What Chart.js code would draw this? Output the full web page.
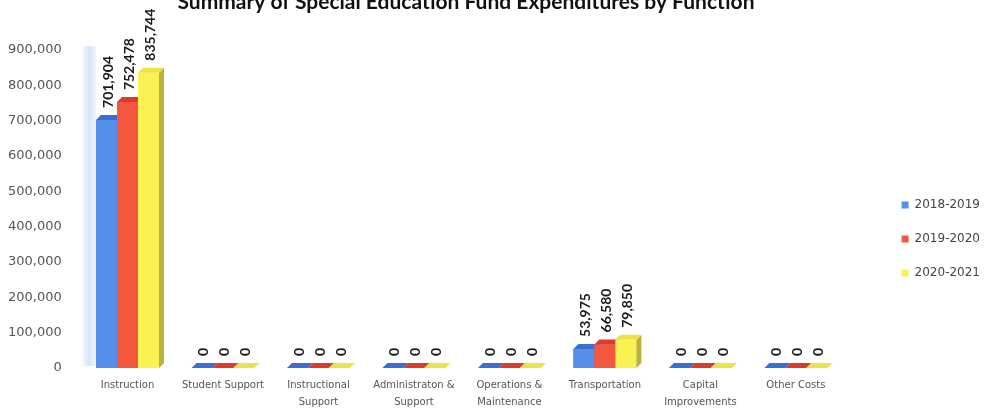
<!DOCTYPE html>
<html>
<head>
<meta charset="utf-8">
<script src="https://cdn.jsdelivr.net/npm/chart.js@4"></script>
<style>
  html, body { margin: 0; padding: 0; background: #fff; }
  #wrap { width: 984px; height: 411px; }
</style>
</head>
<body>
<div id="wrap"><canvas id="myChart"></canvas></div>
<script>
const chartTitle = 'Summary of Special Education Fund Expenditures by Function';
const categories = [
    'Instruction', 'Student Support', ['Instructional', 'Support'], ['Administraton &', 'Support'],
    ['Operations &', 'Maintenance'], 'Transportation', ['Capital', 'Improvements'], 'Other Costs'
];
const seriesNames = ['2018-2019', '2019-2020', '2020-2021'];
const values2018 = [701904, 0, 0, 0, 0, 53975, 0, 0];
const values2019 = [752478, 0, 0, 0, 0, 66580, 0, 0];
const values2020 = [835744, 0, 0, 0, 0, 79850, 0, 0];
const yTicks = [0, 100000, 200000, 300000, 400000, 500000, 600000, 700000, 800000, 900000];

// front, top, side colours per series
const palette = [
    { front: 'rgb(84, 143, 234)', top: 'rgb(60, 110, 210)', side: 'rgb(50, 95, 190)' },
    { front: 'rgb(242, 88, 62)', top: 'rgb(222, 60, 42)', side: 'rgb(200, 50, 35)' },
    { front: 'rgb(250, 242, 82)', top: 'rgb(236, 228, 70)', side: 'rgb(186, 178, 60)' }
];
const depth = 5;

// redraws every bar with a top and side face so the columns look solid
const bars3d = {
    id: 'bars3d',
    afterDatasetsDraw(chart) {
        const ctx = chart.ctx;
        ctx.save();
        chart.data.datasets.forEach((ds, i) => {
            const meta = chart.getDatasetMeta(i);
            const col = palette[i];
            meta.data.forEach(bar => {
                const l = bar.x - bar.width / 2;
                const r = bar.x + bar.width / 2;
                const t = bar.y;
                const b = bar.base;
                ctx.fillStyle = col.front;
                ctx.fillRect(l, t, r - l, b - t);
                ctx.fillStyle = col.side;
                ctx.beginPath();
                ctx.moveTo(r, t);
                ctx.lineTo(r + depth, t - depth);
                ctx.lineTo(r + depth, b - depth);
                ctx.lineTo(r, b);
                ctx.closePath();
                ctx.fill();
                ctx.fillStyle = col.top;
                ctx.beginPath();
                ctx.moveTo(l, t);
                ctx.lineTo(r, t);
                ctx.lineTo(r + depth, t - depth);
                ctx.lineTo(l + depth, t - depth);
                ctx.closePath();
                ctx.fill();
            });
        });
        ctx.restore();
    }
};

// rotated value labels above each bar
const valueLabels = {
    id: 'valueLabels',
    afterDraw(chart) {
        const ctx = chart.ctx;
        ctx.save();
        ctx.font = 'bold 14px Lato';
        ctx.fillStyle = '#1a1a1a';
        ctx.textAlign = 'left';
        ctx.textBaseline = 'middle';
        chart.data.datasets.forEach((ds, i) => {
            chart.getDatasetMeta(i).data.forEach((bar, j) => {
                ctx.save();
                ctx.translate(bar.x + 2, bar.y - depth - 7);
                ctx.rotate(-Math.PI / 2);
                ctx.fillText(ds.data[j].toLocaleString('en-US'), 0, 0);
                ctx.restore();
            });
        });
        ctx.restore();
    }
};

// title sits partly above the top edge
const topTitle = {
    id: 'topTitle',
    afterDraw(chart) {
        const ctx = chart.ctx;
        ctx.save();
        ctx.font = 'bold 21px Lato';
        ctx.fillStyle = '#111';
        ctx.textAlign = 'center';
        ctx.textBaseline = 'alphabetic';
        ctx.fillText(chartTitle, 466, 9);
        ctx.restore();
    }
};

// faint blue haze behind the first column
const backHaze = {
    id: 'backHaze',
    beforeDatasetsDraw(chart) {
        const bar = chart.getDatasetMeta(0).data[0];
        const area = chart.chartArea;
        const x0 = bar.x - bar.width / 2 - 13;
        const ctx = chart.ctx;
        ctx.save();
        const g = ctx.createLinearGradient(x0, 0, x0 + 13, 0);
        g.addColorStop(0, 'rgba(170, 205, 240, 0.2)');
        g.addColorStop(0.5, 'rgba(160, 200, 240, 0.45)');
        g.addColorStop(1, 'rgba(190, 215, 245, 0.25)');
        ctx.fillStyle = g;
        ctx.fillRect(x0, area.top - 4, 13, area.bottom - area.top + 2);
        ctx.restore();
    }
};

const ctx = document.getElementById('myChart').getContext('2d');
const myChart = new Chart(ctx, {
    type: 'bar',
    data: {
        labels: categories,
        datasets: [values2018, values2019, values2020].map((vals, i) => ({
            label: seriesNames[i],
            data: vals,
            backgroundColor: palette[i].front,
            borderWidth: 0,
            barPercentage: 1,
            categoryPercentage: 0.66,
            yAxisID: 'y'
        }))
    },
    options: {
        responsive: true,
        maintainAspectRatio: false,
        animation: false,
        layout: { padding: { top: 50, left: -10, right: -6, bottom: -9 } },
        plugins: {
            title: { display: false },
            tooltip: { enabled: false },
            legend: {
                position: 'right',
                align: 'center',
                // empty title only nudges the items down a little
                title: { display: true, text: '', padding: 0, font: { size: 8, lineHeight: 1 } },
                labels: {
                    boxWidth: 7,
                    boxHeight: 7,
                    padding: 22,
                    color: '#444',
                    font: { family: 'DejaVu Sans', size: 12 }
                }
            }
        },
        scales: {
            x: {
                grid: { display: false, drawTicks: false },
                border: { display: false },
                ticks: {
                    color: '#555',
                    maxRotation: 0,
                    autoSkip: false,
                    padding: 9,
                    font: { family: 'DejaVu Sans', size: 10, lineHeight: 1.7 }
                }
            },
            y: {
                min: 0,
                max: 900000,
                grid: { display: false, drawTicks: false },
                border: { display: false },
                afterBuildTicks(axis) {
                    axis.ticks = yTicks.map(v => ({ value: v }));
                },
                ticks: {
                    color: '#555',
                    padding: 18,
                    font: { family: 'DejaVu Sans', size: 13 },
                    callback: v => v.toLocaleString('en-US')
                }
            },
            // empty spacer between the plot and the legend
            gap: {
                position: 'right',
                min: 0,
                max: 1,
                grid: { display: false, drawTicks: false },
                border: { display: false },
                ticks: { display: false },
                afterFit(axis) { axis.width = 36; }
            }
        }
    },
    plugins: [backHaze, bars3d, valueLabels, topTitle]
});
</script>
</body>
</html>
